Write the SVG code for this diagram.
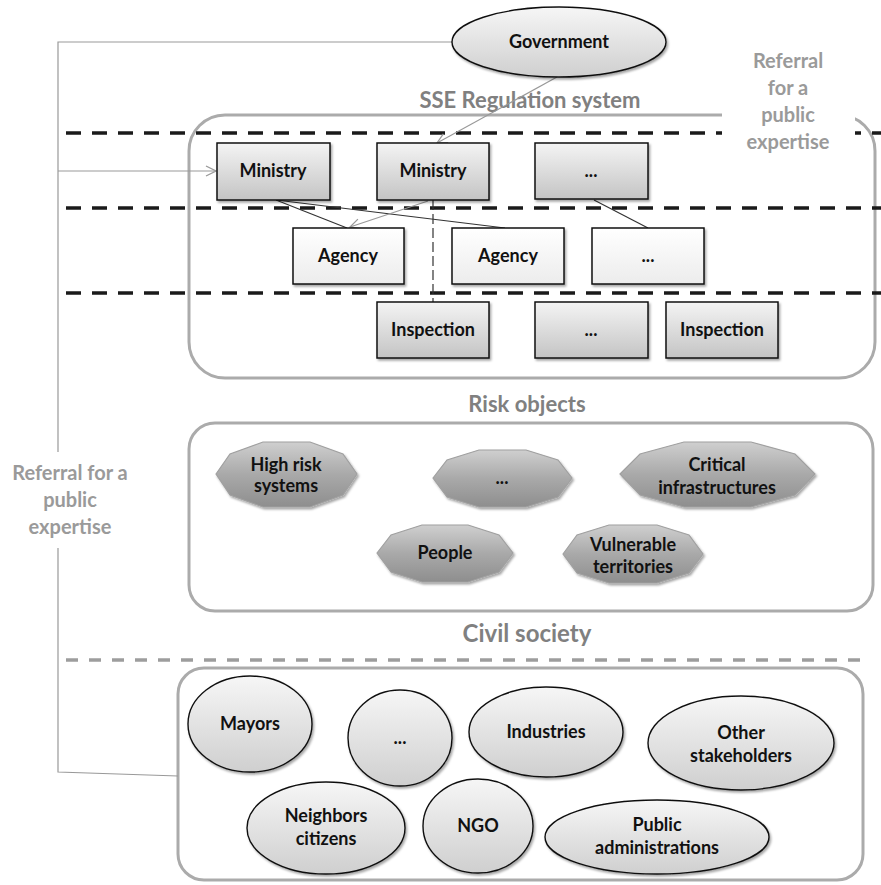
<svg xmlns="http://www.w3.org/2000/svg" width="881" height="885" viewBox="0 0 881 885">
<defs>
  <linearGradient id="gBox" x1="0" y1="0" x2="0" y2="1">
    <stop offset="0" stop-color="#f4f4f4"/>
    <stop offset="1" stop-color="#c4c4c4"/>
  </linearGradient>
  <linearGradient id="gLight" x1="0" y1="0" x2="0" y2="1">
    <stop offset="0" stop-color="#ffffff"/>
    <stop offset="1" stop-color="#ececec"/>
  </linearGradient>
  <linearGradient id="gEll" x1="0" y1="0" x2="0" y2="1">
    <stop offset="0" stop-color="#f6f6f6"/>
    <stop offset="1" stop-color="#cfcfcf"/>
  </linearGradient>
  <linearGradient id="gOct" x1="0" y1="0" x2="0" y2="1">
    <stop offset="0" stop-color="#cfcfcf"/>
    <stop offset="0.5" stop-color="#a9a9a9"/>
    <stop offset="1" stop-color="#8e8e8e"/>
  </linearGradient>
  <filter id="sh" x="-10%" y="-10%" width="130%" height="140%">
    <feDropShadow dx="1.5" dy="2" stdDeviation="1.2" flood-color="#000" flood-opacity="0.35"/>
  </filter>
  <marker id="arr" viewBox="0 0 12 12" refX="11" refY="6" markerWidth="12" markerHeight="12" markerUnits="userSpaceOnUse" orient="auto">
    <path d="M1,1 L11,6 L1,11" fill="none" stroke="#999" stroke-width="1.3"/>
  </marker>
  <style>
    .lbl{font-family:Lato,"Liberation Sans",sans-serif;font-weight:bold;font-size:18px;fill:#111;text-anchor:middle}
    .ttl{font-family:Lato,"Liberation Sans",sans-serif;font-weight:bold;fill:#808080;text-anchor:middle}
    .ref{font-family:Lato,"Liberation Sans",sans-serif;font-weight:bold;font-size:20px;fill:#9a9a9a;text-anchor:middle}
    .box{stroke:#111;stroke-width:1.5;filter:url(#sh)}
    .ell{fill:url(#gEll);stroke:#111;stroke-width:1.4;filter:url(#sh)}
    .oct{fill:url(#gOct);stroke:#a0a0a0;stroke-width:1.2;filter:url(#sh)}
    .frame{fill:none;stroke:#ababab;stroke-width:3}
    .dash{stroke:#1a1a1a;stroke-width:3.5;stroke-dasharray:15 11;fill:none}
    .gdash{stroke:#9d9d9d;stroke-width:3.5;stroke-dasharray:12 11;fill:none}
    .dk{stroke:#333;stroke-width:1.2;fill:none}
    .gr{stroke:#999;stroke-width:1.2;fill:none}
  </style>
</defs>
<rect width="881" height="885" fill="#fff"/>

<!-- frames -->
<g id="sse-frame">
  <rect class="frame" x="189" y="115" width="686" height="263" rx="36"/>
  <text class="ttl" x="530" y="108" font-size="22">SSE Regulation  system</text>
</g>
<g id="separators">
  <line class="dash" x1="66" y1="133" x2="881" y2="133"/>
  <line class="dash" x1="66" y1="208" x2="881" y2="208"/>
  <line class="dash" x1="66" y1="293" x2="881" y2="293"/>
</g>
<g id="referral-right">
  <rect x="722" y="45" width="133" height="115" fill="#fff"/>
  <text class="ref" x="788" y="68">Referral</text>
  <text class="ref" x="788" y="95">for a</text>
  <text class="ref" x="788" y="122">public</text>
  <text class="ref" x="788" y="149">expertise</text>
</g>

<g id="risk-frame">
  <rect class="frame" x="189" y="423" width="684" height="188" rx="26"/>
  <text class="ttl" x="527" y="412" font-size="22">Risk objects</text>
</g>

<g id="civil-frame">
  <text class="ttl" x="527" y="642" font-size="24">Civil society</text>
  <line class="gdash" x1="66" y1="660" x2="870" y2="660"/>
  <rect class="frame" x="178" y="668" width="685" height="212" rx="26"/>
</g>

<!-- connectors -->
<g id="connectors">
  <path class="gr" d="M452,42 H58 V452" marker-start="url(#arr)"/>
  <path class="gr" d="M58,548 V772 L178,776"/>
  <path class="gr" d="M58,171 H216" marker-end="url(#arr)"/>
  <line class="gr" x1="557" y1="77" x2="437" y2="143" marker-end="url(#arr)"/>
  <line class="dk" x1="276" y1="200" x2="347" y2="228"/>
  <line class="dk" x1="276" y1="200" x2="505" y2="228"/>
  <line class="gr" x1="428" y1="201" x2="350" y2="227" marker-end="url(#arr)"/>
  <line class="dk" x1="594" y1="200" x2="648" y2="228"/>
  <line x1="433" y1="200" x2="433" y2="302" stroke="#333" stroke-width="1.2" stroke-dasharray="10 4"/>
</g>
<g id="referral-left">
  <text class="ref" x="70" y="480">Referral for a</text>
  <text class="ref" x="70" y="507">public</text>
  <text class="ref" x="70" y="534">expertise</text>
</g>

<!-- nodes -->
<g id="government">
  <ellipse class="ell" cx="559" cy="42" rx="107" ry="35"/>
  <text class="lbl" x="559" y="48">Government</text>
</g>
<g id="ministry1">
  <rect class="box" x="217" y="143" width="113" height="57" fill="url(#gBox)"/>
  <text class="lbl" x="273" y="177">Ministry</text>
</g>
<g id="ministry2">
  <rect class="box" x="377" y="143" width="112" height="57" fill="url(#gBox)"/>
  <text class="lbl" x="433" y="177">Ministry</text>
</g>
<g id="ministry3">
  <rect class="box" x="535" y="143" width="113" height="56" fill="url(#gBox)"/>
  <text class="lbl" x="591" y="177">...</text>
</g>
<g id="agency1">
  <rect class="box" x="293" y="228" width="111" height="56" fill="url(#gLight)"/>
  <text class="lbl" x="348" y="262">Agency</text>
</g>
<g id="agency2">
  <rect class="box" x="452" y="228" width="112" height="56" fill="url(#gLight)"/>
  <text class="lbl" x="508" y="262">Agency</text>
</g>
<g id="agency3">
  <rect class="box" x="592" y="228" width="112" height="56" fill="url(#gLight)"/>
  <text class="lbl" x="648" y="262">...</text>
</g>
<g id="inspection1">
  <rect class="box" x="377" y="302" width="112" height="56" fill="url(#gBox)"/>
  <text class="lbl" x="433" y="336">Inspection</text>
</g>
<g id="inspection2">
  <rect class="box" x="535" y="302" width="113" height="56" fill="url(#gBox)"/>
  <text class="lbl" x="591" y="336">...</text>
</g>
<g id="inspection3">
  <rect class="box" x="666" y="302" width="112" height="56" fill="url(#gBox)"/>
  <text class="lbl" x="722" y="336">Inspection</text>
</g>

<g id="high-risk-systems">
  <polygon class="oct" points="216,474 230,454 263,442 310,442 343,454 357,474 343,495 310,507 263,507 230,495"/>
  <text class="lbl" x="286" y="471">High risk</text>
  <text class="lbl" x="286" y="492">systems</text>
</g>
<g id="risk-etc">
  <polygon class="oct" points="433,478 447,460 479,450 526,450 558,460 572,478 558,497 526,507 479,507 447,497"/>
  <text class="lbl" x="502" y="484">...</text>
</g>
<g id="critical-infrastructures">
  <polygon class="oct" points="620,474 640,454 684,442 751,442 795,454 815,474 795,495 751,507 684,507 640,495"/>
  <text class="lbl" x="717" y="471">Critical</text>
  <text class="lbl" x="717" y="494">infrastructures</text>
</g>
<g id="people">
  <polygon class="oct" points="377,553 391,535 422,525 468,525 499,535 513,553 499,572 468,582 422,582 391,572"/>
  <text class="lbl" x="445" y="559">People</text>
</g>
<g id="vulnerable-territories">
  <polygon class="oct" points="563,554 577,535 609,525 657,525 689,535 703,554 689,573 657,583 609,583 577,573"/>
  <text class="lbl" x="633" y="551">Vulnerable</text>
  <text class="lbl" x="633" y="573">territories</text>
</g>

<g id="mayors">
  <ellipse class="ell" cx="250" cy="724" rx="62" ry="48"/>
  <text class="lbl" x="250" y="730">Mayors</text>
</g>
<g id="civil-etc">
  <ellipse class="ell" cx="400" cy="738" rx="52" ry="48"/>
  <text class="lbl" x="400" y="744">...</text>
</g>
<g id="industries">
  <ellipse class="ell" cx="546" cy="732" rx="77" ry="45"/>
  <text class="lbl" x="546" y="738">Industries</text>
</g>
<g id="other-stakeholders">
  <ellipse class="ell" cx="741" cy="743" rx="93" ry="47"/>
  <text class="lbl" x="741" y="739">Other</text>
  <text class="lbl" x="741" y="762">stakeholders</text>
</g>
<g id="neighbors-citizens">
  <ellipse class="ell" cx="326" cy="828" rx="79" ry="46"/>
  <text class="lbl" x="326" y="822">Neighbors</text>
  <text class="lbl" x="326" y="845">citizens</text>
</g>
<g id="ngo">
  <ellipse class="ell" cx="478" cy="826" rx="55" ry="47"/>
  <text class="lbl" x="478" y="832">NGO</text>
</g>
<g id="public-administrations">
  <ellipse class="ell" cx="657" cy="837" rx="112" ry="37"/>
  <text class="lbl" x="657" y="831">Public</text>
  <text class="lbl" x="657" y="854">administrations</text>
</g>
</svg>
